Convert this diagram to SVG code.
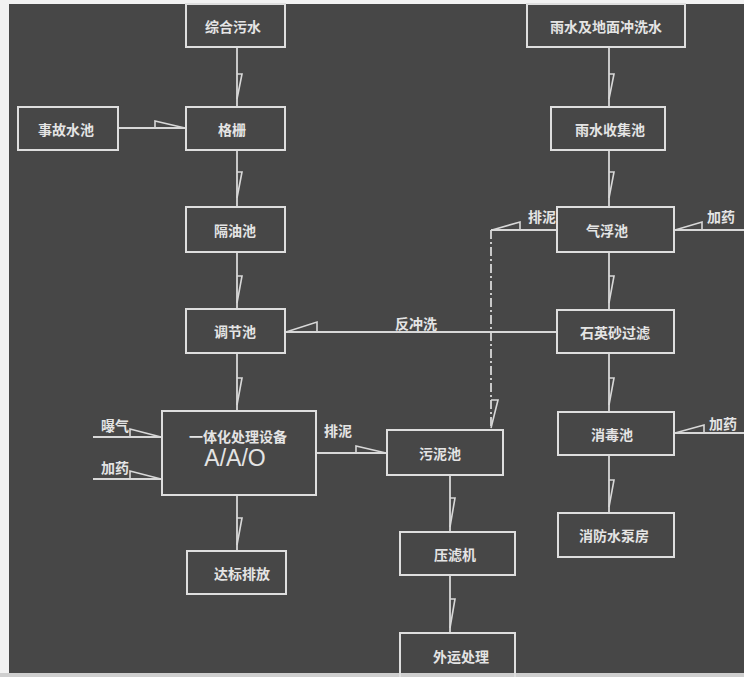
<svg xmlns="http://www.w3.org/2000/svg" width="744" height="677" viewBox="0 0 744 677">
<style>
.bg{fill:#474747}
.box{fill:none;stroke:#dedede;stroke-width:2}
.ln{fill:none;stroke:#d8d8d8;stroke-width:1.8}
.dash{fill:none;stroke:#d8d8d8;stroke-width:1.8;stroke-dasharray:9 3 2 3}
.ah{fill:none;stroke:#d8d8d8;stroke-width:1.6;stroke-linejoin:miter}
text{font-family:"Noto Sans CJK SC","Noto Sans",sans-serif;font-size:14px;font-weight:bold;fill:#e4e4e4;text-anchor:middle;dominant-baseline:central}
.big{font-family:"Liberation Sans","DejaVu Sans",sans-serif;font-weight:normal;font-size:23px}
</style>
<rect x="0" y="0" width="744" height="677" fill="#f2f2f2"/>
<rect class="bg" x="9" y="4" width="735" height="669"/>
<rect x="0" y="673" width="744" height="4" fill="#cfcfcf"/>

<g id="connectors">
  <!-- left column -->
  <line class="ln" x1="237" y1="47" x2="237" y2="107"/>
  <path class="ah" d="M237,74 H242 L237,99"/>
  <line class="ln" x1="237" y1="150" x2="237" y2="207"/>
  <path class="ah" d="M237,172 H242 L237,198"/>
  <line class="ln" x1="237" y1="252" x2="237" y2="309"/>
  <path class="ah" d="M237,276 H242 L237,303"/>
  <line class="ln" x1="237" y1="353" x2="237" y2="411"/>
  <path class="ah" d="M237,378 H242 L237,405"/>
  <line class="ln" x1="237" y1="495" x2="237" y2="551"/>
  <path class="ah" d="M237,518 H242 L237,545"/>
  <!-- accident pool to grating -->
  <line class="ln" x1="118" y1="128" x2="186" y2="128"/>
  <path class="ah" d="M155,128 V121 L185,128"/>
  <!-- aeration / dosing into A/A/O -->
  <line class="ln" x1="93" y1="437" x2="162" y2="437"/>
  <path class="ah" d="M130,437 V429 L161,437"/>
  <line class="ln" x1="93" y1="479" x2="162" y2="479"/>
  <path class="ah" d="M130,479 V471 L161,479"/>
  <!-- sludge from A/A/O -->
  <line class="ln" x1="316" y1="453" x2="387" y2="453"/>
  <path class="ah" d="M356,453 V446 L386,453"/>
  <!-- right column -->
  <line class="ln" x1="609" y1="47" x2="609" y2="107"/>
  <path class="ah" d="M609,74 H614 L609,99"/>
  <line class="ln" x1="609" y1="150" x2="609" y2="207"/>
  <path class="ah" d="M609,172 H614 L609,198"/>
  <line class="ln" x1="609" y1="252" x2="609" y2="310"/>
  <path class="ah" d="M609,276 H614 L609,303"/>
  <line class="ln" x1="609" y1="353" x2="609" y2="412"/>
  <path class="ah" d="M609,378 H614 L609,405"/>
  <line class="ln" x1="609" y1="455" x2="609" y2="513"/>
  <path class="ah" d="M609,480 H614 L609,507"/>
  <!-- sludge from flotation -->
  <line class="ln" x1="557" y1="230" x2="491" y2="230"/>
  <path class="ah" d="M520,230 V222 L492,230"/>
  <line class="dash" x1="491" y1="230" x2="491" y2="430"/>
  <path class="ah" d="M491,400 H498 L491,428"/>
  <!-- dosing flotation -->
  <line class="ln" x1="744" y1="230" x2="674" y2="230"/>
  <path class="ah" d="M702,230 V222 L675,230"/>
  <!-- backwash -->
  <line class="ln" x1="557" y1="332" x2="285" y2="332"/>
  <path class="ah" d="M317,332 V322 L286,332"/>
  <!-- dosing disinfection -->
  <line class="ln" x1="744" y1="433" x2="674" y2="433"/>
  <path class="ah" d="M704,433 V425 L675,433"/>
  <!-- sludge column -->
  <line class="ln" x1="450" y1="475" x2="450" y2="532"/>
  <path class="ah" d="M450,498 H455 L450,527"/>
  <line class="ln" x1="450" y1="575" x2="450" y2="633"/>
  <path class="ah" d="M450,599 H455 L450,628"/>
</g>

<g id="labels">
  <text x="115" y="425">曝气</text>
  <text x="115" y="467">加药</text>
  <text x="338" y="430">排泥</text>
  <text x="542" y="216">排泥</text>
  <text x="721" y="216">加药</text>
  <text x="416" y="323">反冲洗</text>
  <text x="723" y="423">加药</text>
</g>

<g id="n-zonghe"><rect class="box" x="186" y="4" width="99" height="43"/><text x="233" y="26">综合污水</text></g>
<g id="n-shigu"><rect class="box" x="18" y="107" width="100" height="43"/><text x="66" y="129">事故水池</text></g>
<g id="n-geshan"><rect class="box" x="186" y="107" width="99" height="43"/><text x="232" y="129">格栅</text></g>
<g id="n-geyou"><rect class="box" x="186" y="207" width="99" height="45"/><text x="235" y="230">隔油池</text></g>
<g id="n-tiaojie"><rect class="box" x="186" y="309" width="99" height="44"/><text x="235" y="331">调节池</text></g>
<g id="n-aao"><rect class="box" x="162" y="411" width="154" height="84"/><text x="238" y="436">一体化处理设备</text><text class="big" x="235" y="458">A/A/O</text></g>
<g id="n-dabiao"><rect class="box" x="187" y="551" width="99" height="43"/><text x="242" y="573">达标排放</text></g>
<g id="n-wuni"><rect class="box" x="387" y="430" width="116" height="45"/><text x="440" y="453">污泥池</text></g>
<g id="n-yalv"><rect class="box" x="400" y="532" width="115" height="43"/><text x="455" y="554">压滤机</text></g>
<g id="n-waiyun"><rect class="box" x="400" y="633" width="115" height="50"/><text x="461" y="656">外运处理</text></g>
<g id="n-yushui"><rect class="box" x="527" y="4" width="158" height="43"/><text x="606" y="26">雨水及地面冲洗水</text></g>
<g id="n-shouji"><rect class="box" x="551" y="107" width="114" height="43"/><text x="610" y="129">雨水收集池</text></g>
<g id="n-qifu"><rect class="box" x="557" y="207" width="117" height="45"/><text x="607" y="230">气浮池</text></g>
<g id="n-shiying"><rect class="box" x="557" y="310" width="117" height="43"/><text x="615" y="332">石英砂过滤</text></g>
<g id="n-xiaodu"><rect class="box" x="558" y="412" width="116" height="43"/><text x="612" y="434">消毒池</text></g>
<g id="n-xiaofang"><rect class="box" x="558" y="513" width="116" height="44"/><text x="614" y="535">消防水泵房</text></g>
</svg>
